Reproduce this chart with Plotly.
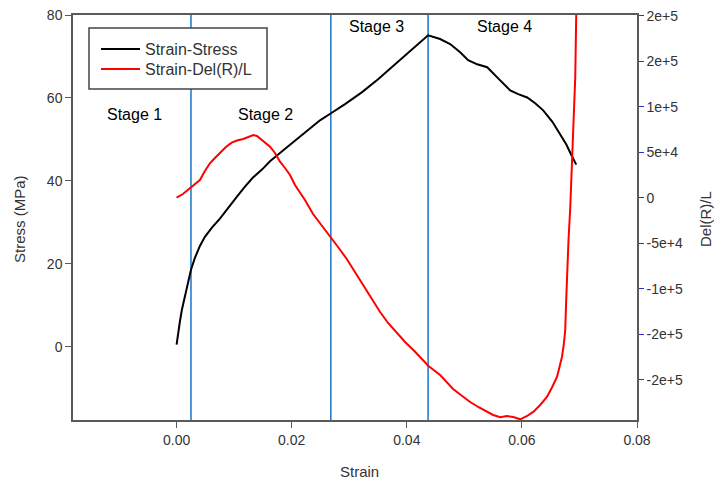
import plotly.graph_objects as go

# ---- data ----
strain_stress_x = [0.0, 0.00023, 0.00057, 0.00092, 0.00144, 0.00197, 0.00249, 0.00318, 0.00405,
                   0.00492, 0.00614, 0.00753, 0.00892, 0.01049, 0.01188, 0.01327, 0.01483, 0.01623,
                   0.01918, 0.02143, 0.02318, 0.02492, 0.02683, 0.02927, 0.03223, 0.03501, 0.03797,
                   0.04058, 0.04231, 0.04370, 0.04579, 0.04753, 0.04927, 0.05066, 0.05223, 0.05397,
                   0.05588, 0.05797, 0.05936, 0.06092, 0.06231, 0.06370, 0.06527, 0.06666, 0.06770,
                   0.06857, 0.06944]
stress = [0.5, 3.3, 6.0, 8.9, 12.3, 15.6, 18.5, 21.4, 24.3,
          26.5, 28.7, 30.9, 33.5, 36.2, 38.6, 40.8, 42.7, 44.7,
          48.1, 50.7, 52.6, 54.6, 56.3, 58.5, 61.4, 64.5, 68.1,
          71.3, 73.4, 75.1, 74.2, 73.0, 71.0, 69.1, 68.1, 67.4,
          64.7, 61.8, 60.9, 60.1, 58.7, 57.0, 54.3, 51.2, 48.8,
          46.3, 43.9]

strain_r_x = [0.0, 0.0011, 0.00231, 0.00318, 0.00405, 0.00492, 0.00579, 0.00666, 0.00753, 0.00857,
              0.00957, 0.01049, 0.01158, 0.0124, 0.01332, 0.01397, 0.01449, 0.01536, 0.01623,
              0.0171, 0.01797, 0.01884, 0.01971, 0.02057, 0.02144, 0.02231, 0.02371, 0.02492,
              0.02666, 0.02805, 0.02957, 0.03101, 0.03245, 0.03397, 0.03536, 0.03675, 0.03826,
              0.0397, 0.04115, 0.04231, 0.04376, 0.04579, 0.04805, 0.04962, 0.05101, 0.0524,
              0.05391, 0.05501, 0.05623, 0.05739, 0.05849, 0.05971, 0.06092, 0.06202, 0.06318,
              0.06435, 0.06527, 0.06609, 0.06649, 0.06696, 0.06727, 0.06753, 0.06770, 0.06783,
              0.06810, 0.06840, 0.06870, 0.06897, 0.06927, 0.06944, 0.06957]
del_r_l = [0, 4066, 10330, 15055, 19450, 29340, 37800, 43630, 48790, 55710,
           60440, 62860, 64500, 66700, 68900, 67800, 65270, 61210, 56150,
           49120, 39560, 32640, 24950, 13960, 6260, -2530, -17910, -27800,
           -42090, -54180, -67360, -81650, -97030, -112420, -125600, -137690, -148680,
           -158570, -167360, -175050, -184940, -194830, -210220, -217910, -224500, -229990,
           -235490, -238790, -241320, -239890, -240990, -243520, -239890, -235160, -227800,
           -219010, -208020, -197030, -187140, -175050, -161860, -145380, -112420, -87140,
           -46480, -11320, 33740, 82090, 132640, 200770, 239200]

stage_boundaries = [0.0025, 0.0268, 0.0437]
stage_labels = ["Stage 1", "Stage 2", "Stage 3", "Stage 4"]
stage_label_x = [-0.00725, 0.0155, 0.0348, 0.0570]
stage_label_y = [56.0, 56.0, 77.3, 77.3]

x_ticks = [0.0, 0.02, 0.04, 0.06, 0.08]
y_ticks = [0, 20, 40, 60, 80]
y2_ticks = [-200000, -150000, -100000, -50000, 0, 50000, 100000, 150000, 200000]
y2_ticktext = ["-2e+5", "-2e+5", "-1e+5", "-5e+4", "0", "5e+4", "1e+5", "2e+5", "2e+5"]

x_title = "Strain"
y_title = "Stress (MPa)"
y2_title = "Del(R)/L"

FONT = "Liberation Sans, Arial, sans-serif"
AXIS_COLOR = "#5a5a5a"
TEXT_COLOR = "#333333"

# page body has an 8px margin: work in screen pixels and convert
OFF = 8
W, H = 714, 473
L, T = 73 - OFF, 15 - OFF
R = W - (637 - OFF)
B = H - (420 - OFF)
PW, PH = W - L - R, H - T - B


def px(sx):
    return (sx - OFF - L) / PW


def py(sy):
    return 1 - (sy - OFF - T) / PH


fig = go.Figure()
fig.add_trace(go.Scatter(x=strain_stress_x, y=stress, mode="lines", name="Strain-Stress",
                         legend="legend", line=dict(color="black", width=2)))
fig.add_trace(go.Scatter(x=strain_r_x, y=del_r_l, mode="lines", name="Strain-Del(R)/L",
                         yaxis="y2", legend="legend2", line=dict(color="red", width=2)))

for xb in stage_boundaries:
    fig.add_shape(type="line", xref="x", yref="paper", x0=xb, x1=xb, y0=0, y1=1,
                  line=dict(color="#1874c8", width=1.5), layer="below")

for txt, lx, ly in zip(stage_labels, stage_label_x, stage_label_y):
    fig.add_annotation(x=lx, y=ly, xref="x", yref="y", text=txt, showarrow=False,
                       xanchor="center", yanchor="middle",
                       font=dict(family=FONT, size=16, color="black"))

# axis titles
title_font = dict(family=FONT, size=15, color=TEXT_COLOR)
fig.add_annotation(x=px(359), y=py(471), xref="paper", yref="paper", text=x_title,
                   showarrow=False, xanchor="center", yanchor="middle", font=title_font)
fig.add_annotation(x=px(20), y=py(219), xref="paper", yref="paper", text=y_title,
                   textangle=-90, showarrow=False, xanchor="center", yanchor="middle",
                   font=title_font)
fig.add_annotation(x=px(706), y=py(219), xref="paper", yref="paper", text=y2_title,
                   textangle=-90, showarrow=False, xanchor="center", yanchor="middle",
                   font=title_font)

# legend frame
fig.add_shape(type="rect", xref="paper", yref="paper",
              x0=px(89), x1=px(267), y0=py(89), y1=py(28),
              line=dict(color="#444444", width=1.5), fillcolor="white", layer="above")

axis_common = dict(showgrid=False, zeroline=False, showline=True, linecolor=AXIS_COLOR,
                   linewidth=1.5, ticks="outside", automargin=False,
                   ticklabeloverflow="allow",
                   tickfont=dict(size=14, color=TEXT_COLOR))

legend_common = dict(xanchor="left", yanchor="middle", bgcolor="rgba(0,0,0,0)", borderwidth=0,
                     font=dict(family=FONT, size=16, color=TEXT_COLOR), itemwidth=39)

fig.update_layout(
    width=W, height=H,
    margin=dict(l=L, r=R, t=T, b=B, autoexpand=False),
    paper_bgcolor="white", plot_bgcolor="white",
    font=dict(family=FONT, size=14, color=TEXT_COLOR),
    showlegend=True,
    legend=dict(x=px(96), y=py(49), **legend_common),
    legend2=dict(x=px(96), y=py(69), **legend_common),
    xaxis=dict(range=[-0.018, 0.08], tickvals=x_ticks, tickformat=".2f",
               mirror=True, ticklen=6, tickcolor=AXIS_COLOR, **axis_common),
    yaxis=dict(range=[-17.7, 80], tickvals=y_ticks, mirror=True,
               ticklen=6, tickcolor=AXIS_COLOR, **axis_common),
    yaxis2=dict(range=[-244300, 200770], overlaying="y", side="right",
                tickvals=y2_ticks, ticktext=y2_ticktext,
                ticklen=5, tickcolor="#3030d0", **axis_common),
)

fig.write_html("out.html")
